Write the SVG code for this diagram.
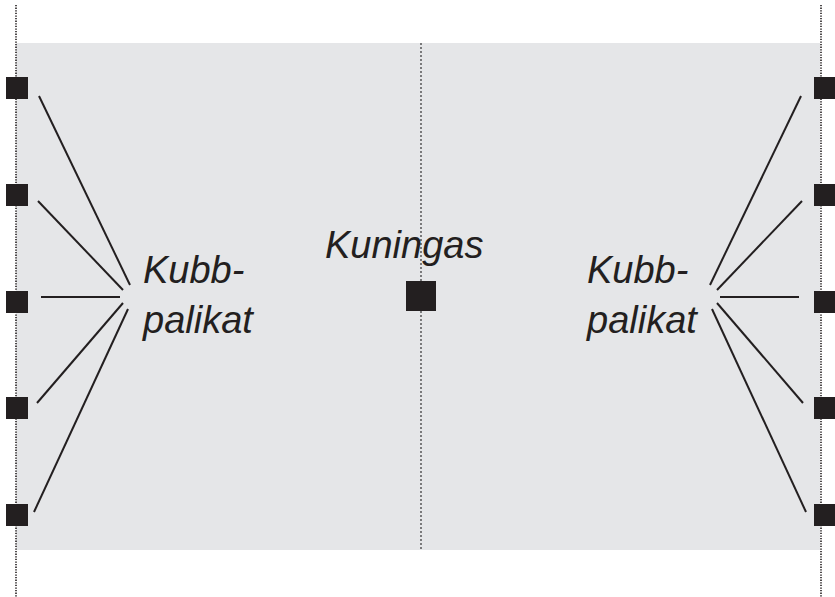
<svg xmlns="http://www.w3.org/2000/svg" width="835" height="597" viewBox="0 0 835 597">
<style>
.sq{fill:#231f20}
.ln{stroke:#231f20;stroke-width:2;fill:none}
.dot{stroke:#231f20;stroke-width:1.6;stroke-dasharray:1.3 1.3;fill:none}
.dotc{stroke:#333;stroke-width:1.2;stroke-dasharray:2 2;fill:none}
.t{font-family:"Liberation Sans",Arial,sans-serif;font-style:italic;font-size:38px;fill:#231f20}
</style>
<g id="field">
<rect x="16" y="43" width="804" height="507" fill="#e5e6e8"/>
</g>
<g id="guides">
<line class="dot" x1="16" y1="5" x2="16" y2="597"/>
<line class="dot" x1="821" y1="5" x2="821" y2="597"/>
<line class="dotc" x1="421" y1="43" x2="421" y2="550"/>
</g>
<g id="connectors">
<line class="ln" x1="39" y1="96" x2="130" y2="285"/>
<line class="ln" x1="38" y1="201" x2="123" y2="290"/>
<line class="ln" x1="41" y1="297" x2="120" y2="297"/>
<line class="ln" x1="37" y1="403" x2="123" y2="303"/>
<line class="ln" x1="34" y1="512" x2="128" y2="309"/>
<line class="ln" x1="801" y1="96" x2="710" y2="285"/>
<line class="ln" x1="802" y1="201" x2="717" y2="290"/>
<line class="ln" x1="799" y1="297" x2="720" y2="297"/>
<line class="ln" x1="803" y1="403" x2="717" y2="303"/>
<line class="ln" x1="806" y1="512" x2="712" y2="309"/>
</g>
<g id="left-pins">
<rect class="sq" x="6" y="77" width="22" height="22"/>
<rect class="sq" x="6" y="184" width="22" height="22"/>
<rect class="sq" x="6" y="291" width="22" height="22"/>
<rect class="sq" x="6" y="397" width="22" height="22"/>
<rect class="sq" x="6" y="504" width="22" height="22"/>
</g>
<g id="right-pins">
<rect class="sq" x="814" y="77" width="22" height="22"/>
<rect class="sq" x="814" y="184" width="22" height="22"/>
<rect class="sq" x="814" y="291" width="22" height="22"/>
<rect class="sq" x="814" y="397" width="22" height="22"/>
<rect class="sq" x="814" y="504" width="22" height="22"/>
</g>
<g id="king">
<rect class="sq" x="406" y="281" width="30" height="30"/>
<text class="t" x="325" y="258">Kuningas</text>
</g>
<g id="left-label">
<text class="t" x="143" y="283">Kubb-</text>
<text class="t" x="143" y="333">palikat</text>
</g>
<g id="right-label">
<text class="t" x="587" y="283">Kubb-</text>
<text class="t" x="587" y="333">palikat</text>
</g>
</svg>
